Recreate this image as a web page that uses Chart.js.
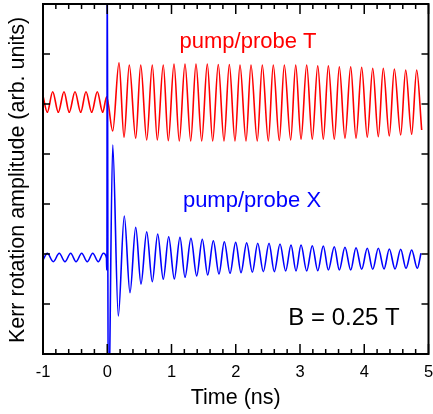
<!DOCTYPE html>
<html>
<head>
<meta charset="utf-8">
<script src="https://cdn.jsdelivr.net/npm/chart.js@4.4.0/dist/chart.umd.min.js"></script>
<style>
  body { margin: 0; background: #fff; }
  #wrap { width: 433px; height: 414px; position: relative; }
</style>
</head>
<body>
<div id="wrap"><canvas id="kerrChart"></canvas></div>
<script>
// extrema (time in ns, signal in arb. units)
const redT = [-1.0, -0.933, -0.849, -0.762, -0.673, -0.592, -0.502, -0.413, -0.331, -0.242, -0.155, -0.071, -0.009,
  0.085, 0.183, 0.261, 0.343, 0.443, 0.521, 0.614, 0.701, 0.779, 0.872, 0.950,
  1.039, 1.121, 1.210, 1.299, 1.381, 1.470, 1.557, 1.641, 1.728, 1.817, 1.900, 1.988,
  2.066, 2.160, 2.237, 2.335, 2.413, 2.507, 2.584, 2.678, 2.756, 2.855, 2.933,
  3.016, 3.104, 3.191, 3.276, 3.363, 3.441, 3.534, 3.612, 3.700, 3.789, 3.872, 3.960,
  4.047, 4.132, 4.219, 4.296, 4.390, 4.468, 4.567, 4.645, 4.738, 4.816, 4.894];
const redV = [258, 241.7, 262.3, 241.7, 262.3, 241.7, 262.3, 241.7, 262.3, 241.7, 262.3, 241.7, 257.3,
  223, 291.3, 216.7, 289, 215.7, 289, 214, 289, 214, 289, 213.3,
  290, 213, 290, 213, 290, 213, 290, 213, 289.5, 213, 289.5, 213,
  289, 213, 289, 213, 289, 213, 289, 213.5, 289, 214, 289,
  214.7, 289, 214.7, 288.3, 214.7, 288.3, 214.7, 287.3, 215.7, 287.3, 215.7, 286.7,
  216.7, 285.7, 217.3, 285.7, 218, 285, 219, 284, 219.7, 284, 224];

const blueT = [-1.0, -0.933, -0.840, -0.747, -0.658, -0.569, -0.486, -0.398, -0.311, -0.226, -0.139, -0.061,
  -0.012, -0.008, -0.004, -0.001, 0.016,
  0.085, 0.172, 0.265, 0.354, 0.443, 0.525, 0.614, 0.701, 0.785, 0.872, 0.956,
  1.044, 1.132, 1.210, 1.303, 1.392, 1.479, 1.563, 1.651, 1.739, 1.822, 1.911, 1.999,
  2.082, 2.170, 2.258, 2.342, 2.429, 2.518, 2.600, 2.689, 2.777, 2.860, 2.938,
  3.016, 3.104, 3.191, 3.276, 3.363, 3.441, 3.534, 3.612, 3.700, 3.789, 3.872, 3.960,
  4.047, 4.132, 4.219, 4.308, 4.390, 4.479, 4.567, 4.650, 4.738, 4.826, 4.883];
const blueV = [94, 100.7, 92.3, 100.7, 92.3, 100.7, 92.3, 100.7, 92.3, 100.7, 92.3, 100.7,
  96, 84, 104, 430, -80,
  209, 38, 138, 61.3, 126.7, 70, 122.3, 72.3, 120, 74.7, 117.3,
  75, 116.7, 76.7, 115.7, 78, 114.7, 79, 113.3, 80, 112.3, 80.7, 111.7,
  81.3, 111.3, 81.7, 110.7, 82.3, 110.7, 82.3, 110, 83, 109, 83,
  109, 83, 108.3, 83.3, 108, 84, 107.3, 84, 106.7, 84, 106.3, 84.7,
  105.7, 84.7, 105.7, 85, 105, 85, 104.7, 85.7, 104, 85.7, 100.7];

const xTicks = [-1, 0, 1, 2, 3, 4, 5];
const yTicks = [50, 100, 150, 200, 250, 300];
const labels = ['pump/probe T', 'pump/probe X', 'B = 0.25 T'];

const toPoints = (ts, vs) => ts.map((t, i) => ({ x: t, y: vs[i] }));

const frame = {
  id: 'frame',
  afterDraw(chart) {
    const ctx = chart.ctx;
    const a = chart.chartArea;
    const xs = chart.scales.x, ys = chart.scales.y;
    ctx.save();
    ctx.strokeStyle = '#000';
    ctx.lineWidth = 1.5;
    ctx.beginPath();
    // minor + major ticks on bottom and top, pointing inward
    for (let k = -5; k <= 25; k++) {
      const px = xs.getPixelForValue(k / 5);
      const len = k % 5 === 0 ? 10 : 5;
      ctx.moveTo(px, a.bottom); ctx.lineTo(px, a.bottom - len);
      ctx.moveTo(px, a.top); ctx.lineTo(px, a.top + len);
    }
    yTicks.forEach(v => {
      const py = ys.getPixelForValue(v);
      ctx.moveTo(a.left, py); ctx.lineTo(a.left + 7, py);
      ctx.moveTo(a.right, py); ctx.lineTo(a.right - 7, py);
    });
    ctx.stroke();
    ctx.lineWidth = 2;
    ctx.strokeRect(a.left, a.top, a.right - a.left, a.bottom - a.top);

    ctx.fillStyle = '#000';
    ctx.textAlign = 'center';
    ctx.textBaseline = 'middle';
    ctx.font = '16.5px "Liberation Sans", Arial, sans-serif';
    xTicks.forEach(v => ctx.fillText(String(v), xs.getPixelForValue(v), 372));
    ctx.font = '21.5px "Liberation Sans", Arial, sans-serif';
    ctx.fillText('Time (ns)', (a.left + a.right) / 2, 398);
    ctx.save();
    ctx.translate(18, 180);
    ctx.rotate(-Math.PI / 2);
    ctx.fillText('Kerr rotation amplitude (arb. units)', 0, 0);
    ctx.restore();

    ctx.font = '22px "Liberation Sans", Arial, sans-serif';
    ctx.fillStyle = '#ff0000';
    ctx.fillText(labels[0], 248, 42);
    ctx.fillStyle = '#0000ff';
    ctx.fillText(labels[1], 252, 201);
    ctx.font = '24px "Liberation Sans", Arial, sans-serif';
    ctx.fillStyle = '#000';
    ctx.fillText(labels[2], 344, 318);
    ctx.restore();
  }
};

new Chart(document.getElementById('kerrChart'), {
  type: 'line',
  data: {
    datasets: [{
      label: 'pump/probe X',
      data: toPoints(blueT, blueV),
      borderColor: '#0000ff',
      borderWidth: 1.6,
      pointRadius: 0,
      cubicInterpolationMode: 'monotone',
      clip: 0
    }, {
      label: 'pump/probe T',
      data: toPoints(redT, redV),
      borderColor: '#ff0000',
      borderWidth: 1.6,
      pointRadius: 0,
      cubicInterpolationMode: 'monotone',
      clip: 0
    }]
  },
  options: {
    responsive: true,
    maintainAspectRatio: false,
    animation: false,
    layout: { padding: { left: 43, right: 4.5, top: 4, bottom: 60 } },
    plugins: { legend: { display: false }, tooltip: { enabled: false } },
    scales: {
      x: { type: 'linear', min: -1, max: 5, display: false },
      y: { min: 0, max: 350, display: false }
    }
  },
  plugins: [frame]
});
</script>
</body>
</html>
